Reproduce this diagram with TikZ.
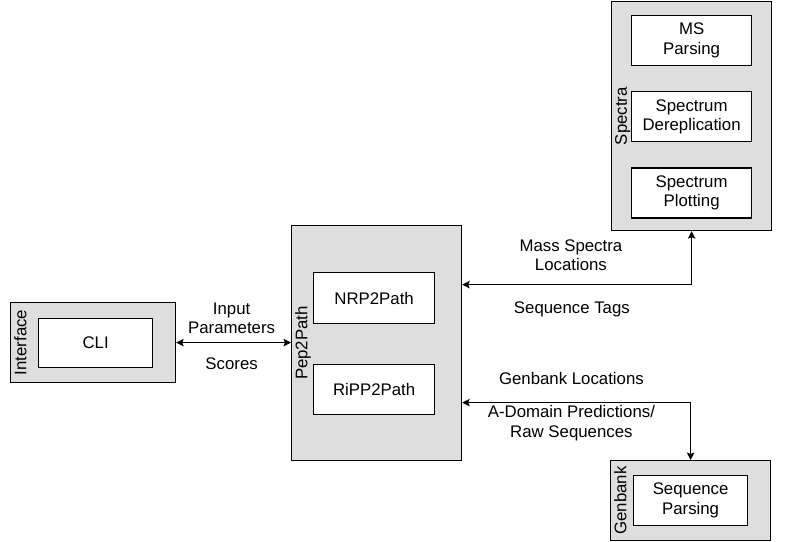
\documentclass[tikz,border=0pt]{standalone}
\usepackage{fontspec}
\setmainfont{Liberation Sans}
\usepackage{tikz}
\usetikzlibrary{shapes,fit,calc,arrows.meta}

\begin{document}
\begin{tikzpicture}[x=1pt,y=1pt]
    \tikzstyle{edge}  = [line width=1.2pt,>={Stealth[length=7.5pt,width=7.5pt,inset=1.5pt]},draw=black]
    \tikzstyle{dedge} = [edge,<->]
    \tikzstyle{txt}   = [font=\fontsize{16.8}{19.5}\selectfont,align=center]
    \tikzstyle{group} = [
      rectangle,
      draw=black,
      fill=black!13,
      line width=1.2pt,
      anchor=north west,
    ]
    \tikzstyle{block} = [
      txt,
      rectangle,
      draw=black,
      fill=white,
      line width=1.2pt,
      anchor=north west,
    ]
    \tikzstyle{grouplabel} = [txt,rotate=90,anchor=north,inner sep=4pt]

    \useasboundingbox (0,0) rectangle (791,541);

    % containers
    \node[group,minimum width=165,minimum height=80]  (interface) at (10,239)  {};
    \node[group,minimum width=170,minimum height=235] (pep2path)  at (291,316) {};
    \node[group,minimum width=160,minimum height=229] (spectra)   at (611,540) {};
    \node[group,minimum width=160,minimum height=80]  (genbank)   at (610,81)  {};

    \node[grouplabel] (interface_label) at (interface.west) {Interface};
    \node[grouplabel] (pep2path_label)  at (pep2path.west)  {Pep2Path};
    \node[grouplabel] (spectra_label)   at (spectra.west)   {Spectra};
    \node[grouplabel] (genbank_label)   at (genbank.west)   {Genbank};

    % modules
    \node[block,minimum width=114,minimum height=49] (cli) at
      ([xshift=28,yshift=-16]interface.north west)
      {CLI};
    \node[block,minimum width=121,minimum height=51] (nrp2path) at
      ([xshift=22,yshift=-47]pep2path.north west)
      {NRP2Path};
    \node[block,anchor=north,minimum width=121,minimum height=50] (ripp2path) at
      ([yshift=-40]nrp2path.south)
      {RiPP2Path};
    \node[block,minimum width=120,minimum height=50] (msparsing) at
      ([xshift=20,yshift=-14]spectra.north west)
      {MS\\Parsing};
    \node[block,anchor=north,minimum width=120,minimum height=50] (dereplication) at
      ([yshift=-25]msparsing.south)
      {Spectrum\\Dereplication};
    \node[block,anchor=north,minimum width=120,minimum height=50] (plotting) at
      ([yshift=-25]dereplication.south)
      {Spectrum\\Plotting};
    \node[block,minimum width=114,minimum height=50] (seqparsing) at
      ([xshift=23,yshift=-15]genbank.north west)
      {Sequence\\Parsing};

    \coordinate (msin) at ([yshift= 58.5]pep2path.east);
    \coordinate (gbin) at ([yshift=-59.5]pep2path.east);

    % interface <-> pep2path
    \draw[dedge] (interface.east)
               --(interface.east -| pep2path.west)
      node[txt,midway,xshift=-2,yshift= 24.5] {Input\\Parameters}
      node[txt,midway,xshift=-2,yshift=-21]   {Scores};

    % pep2path <-> spectra
    \draw[dedge] (spectra.south)
               |-(msin)
      node[txt,pos=0.75,xshift=-6,yshift= 29.5] {Mass Spectra\\Locations}
      node[txt,pos=0.75,xshift=-5,yshift=-25]   {Sequence Tags};

    % pep2path <-> genbank
    \draw[dedge] (genbank.north)
               |-(gbin)
      node[txt,pos=0.75,xshift=-5,yshift= 24]   {Genbank Locations}
      node[txt,pos=0.75,xshift=-5,yshift=-20.5] {A-Domain Predictions/\\Raw Sequences};
\end{tikzpicture}
\end{document}
